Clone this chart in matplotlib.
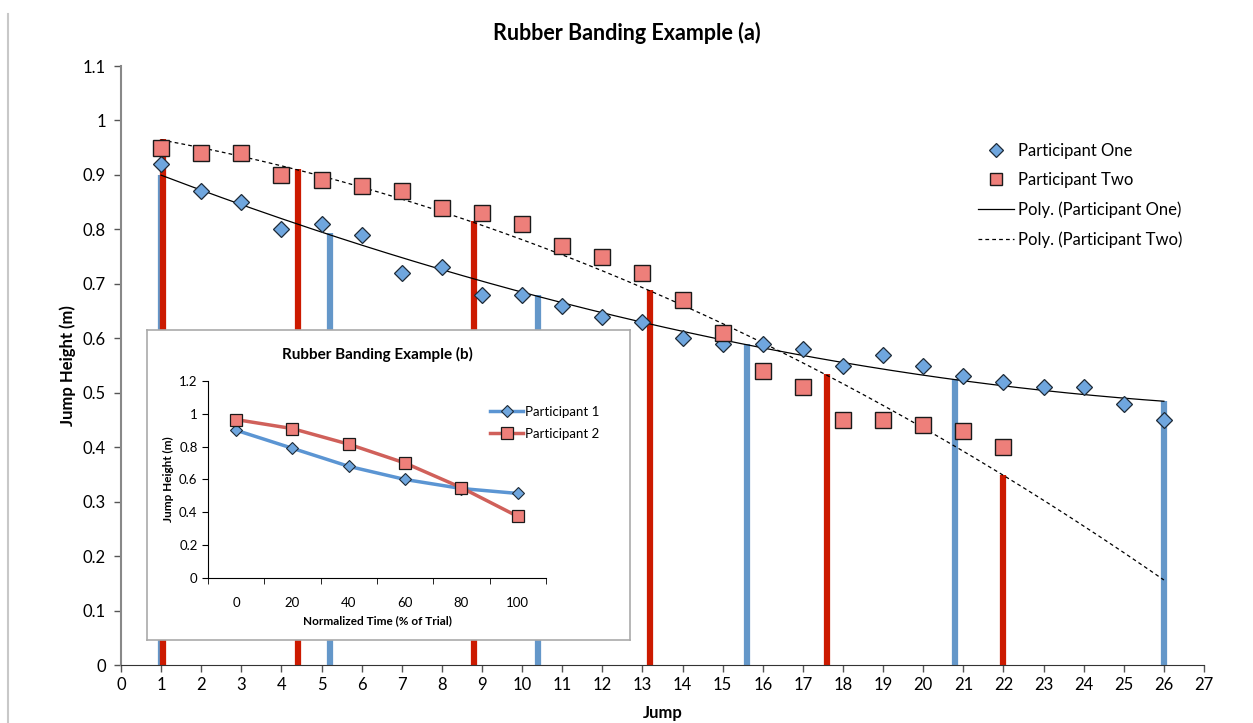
import numpy as np
import matplotlib
matplotlib.use("Agg")
import matplotlib.pyplot as plt
from matplotlib.lines import Line2D

plt.rcParams["font.family"] = ["Lato", "DejaVu Sans"]

# main chart (a): jump heights per jump
jumps_one = list(range(1, 27))
height_one = [0.92, 0.87, 0.85, 0.80, 0.81, 0.79, 0.72, 0.73, 0.68, 0.68, 0.66, 0.64, 0.63,
              0.60, 0.59, 0.59, 0.58, 0.55, 0.57, 0.55, 0.53, 0.52, 0.51, 0.51, 0.48, 0.45]
jumps_two = list(range(1, 23))
height_two = [0.95, 0.94, 0.94, 0.90, 0.89, 0.88, 0.87, 0.84, 0.83, 0.81, 0.77, 0.75, 0.72,
              0.67, 0.61, 0.54, 0.51, 0.45, 0.45, 0.44, 0.43, 0.40]

# rubber-band markers at 0/20/40/60/80/100 % of each trial
band_x_one = [1, 5.2, 10.4, 15.6, 20.8, 26]
band_h_one = [0.90, 0.793, 0.68, 0.59, 0.525, 0.485]
band_x_two = [1.05, 4.4, 8.8, 13.2, 17.6, 22]
band_h_two = [0.966, 0.911, 0.815, 0.689, 0.534, 0.349]

# inset chart (b)
norm_time = ["0", "20", "40", "60", "80", "100"]
norm_one = [0.90, 0.79, 0.68, 0.60, 0.545, 0.515]
norm_two = [0.965, 0.91, 0.815, 0.70, 0.55, 0.375]

BLUE_BAR = "#6497C9"
RED_BAR = "#CC1A00"
BLUE_MK = "#6FA6DE"
RED_MK = "#EE7F7A"

fig = plt.figure(figsize=(12.53, 7.23), dpi=100)
fig.add_artist(Line2D([0.0065, 0.0065], [0.0, 0.98], color="#c8c8c8", lw=1.5))

ax = fig.add_axes([0.0966, 0.0802, 0.8643, 0.8285])
ax.vlines(band_x_one, 0, band_h_one, color=BLUE_BAR, lw=4.5, zorder=1)
ax.vlines(band_x_two, 0, band_h_two, color=RED_BAR, lw=4.5, zorder=1)

# Excel-style polynomial trendlines (order 2), red one forecast out to jump 26
c_one = np.polyfit(jumps_one, height_one, 2)
c_two = np.polyfit(jumps_two, height_two, 2)
xs = np.linspace(1, 26, 200)
ax.plot(xs, np.polyval(c_one, xs), color="black", lw=0.9, zorder=2)
ax.plot(xs, np.polyval(c_two, xs), color="black", lw=0.9, ls=(0, (3, 2.5)), zorder=2)

ax.plot(jumps_one, height_one, ls="none", marker="D", ms=8.5, mfc=BLUE_MK, mec="#1e2a36",
        mew=0.9, zorder=3, label="Participant One")
ax.plot(jumps_two, height_two, ls="none", marker="s", ms=11, mfc=RED_MK, mec="#1a1a1a",
        mew=1.0, zorder=3, label="Participant Two")

handles = [
    Line2D([], [], ls="none", marker="D", ms=7, mfc=BLUE_MK, mec="#1e2a36", mew=0.9),
    Line2D([], [], ls="none", marker="s", ms=9, mfc=RED_MK, mec="#1a1a1a", mew=1.0),
    Line2D([], [], color="black", lw=0.9),
    Line2D([], [], color="black", lw=0.9, ls=(0, (3, 2.5))),
]
ax.legend(handles, ["Participant One", "Participant Two", "Poly. (Participant One)",
                    "Poly. (Participant Two)"],
          loc="upper left", bbox_to_anchor=(0.791, 0.872), frameon=False, fontsize=12,
          handlelength=2.2, labelspacing=0.8, handletextpad=0.2, borderpad=0,
          borderaxespad=0)

ax.set_xlim(0, 27)
ax.set_ylim(0, 1.1)
ax.set_xticks(range(0, 28))
yt = np.round(np.arange(0, 1.11, 0.1), 1)
ax.set_yticks(yt)
ax.set_yticklabels(["0" if v == 0 else ("1" if v == 1 else f"{v:g}") for v in yt])
ax.tick_params(labelsize=12, direction="out", length=5, width=1, color="#555555")
ax.tick_params(axis="y", pad=6)
ax.spines["top"].set_visible(False)
ax.spines["right"].set_visible(False)
ax.spines["left"].set_color("#888888")
ax.spines["left"].set_linewidth(1.5)
ax.spines["bottom"].set_color("#333333")
ax.set_xlabel("Jump", fontsize=12, fontweight="bold", labelpad=9)
ax.set_ylabel("Jump Height (m)", fontsize=12, fontweight="bold", labelpad=5)
fig.text(0.5, 0.955, "Rubber Banding Example (a)", ha="center", va="center",
         fontsize=15.5, fontweight="bold")

# inset box
box = fig.add_axes([0.1173, 0.1148, 0.3855, 0.4288], zorder=5)
box.set_xticks([])
box.set_yticks([])
box.set_facecolor("white")
for s in box.spines.values():
    s.set_color("#aaaaaa")
    s.set_linewidth(1.2)

ins = fig.add_axes([0.166, 0.2006, 0.2697, 0.2724], zorder=6)
ins.patch.set_alpha(0)
xi = np.arange(len(norm_time))
ins.plot(xi, norm_one, color="#5B95D3", lw=2.5, marker="D", ms=6.5, mfc=BLUE_MK,
         mec="#1e2a36", mew=0.8, label="Participant 1")
ins.plot(xi, norm_two, color="#D0605A", lw=2.5, marker="s", ms=8.5, mfc=RED_MK,
         mec="#1a1a1a", mew=0.9, label="Participant 2")
ins.set_xlim(-0.5, 5.5)
ins.set_ylim(0, 1.2)
ins.set_xticks(xi)
ins.set_xticklabels(norm_time)
ins.set_xticks(np.arange(-0.5, 5.6, 1), minor=True)
ins.tick_params(axis="x", which="major", length=0, labelsize=9.5, pad=14)
ins.tick_params(axis="x", which="minor", length=4, direction="out")
ins.set_yticks(np.round(np.arange(0, 1.21, 0.2), 1))
ins.set_yticklabels(["0", "0.2", "0.4", "0.6", "0.8", "1", "1.2"])
ins.tick_params(axis="y", labelsize=9.5, length=4, direction="out")
ins.spines["top"].set_visible(False)
ins.spines["right"].set_visible(False)
ins.set_xlabel("Normalized Time (% of Trial)", fontsize=8.5, fontweight="bold", labelpad=4)
ins.set_ylabel("Jump Height (m)", fontsize=8.5, fontweight="bold", labelpad=4)
ins.set_title("Rubber Banding Example (b)", fontsize=11, fontweight="bold", pad=16)
ins.legend(loc="upper left", bbox_to_anchor=(0.8, 0.935), frameon=False, fontsize=9.5,
           handlelength=2.5, labelspacing=0.75, handletextpad=0.1)

fig.savefig("out.png", dpi=100)
